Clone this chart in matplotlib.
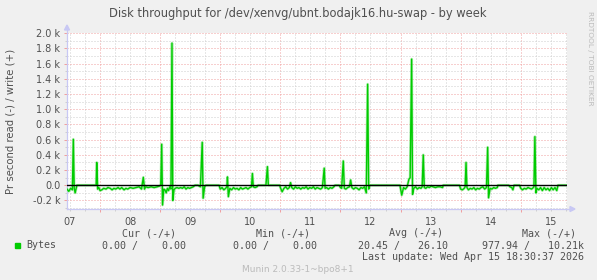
import matplotlib
matplotlib.use("Agg")
import matplotlib.pyplot as plt
from matplotlib.patches import Polygon, Rectangle
from matplotlib.lines import Line2D
import numpy as np

# ---------------- data (time in day-of-April, value in bytes/s) ----------------
times = [
    7.45, 7.48, 7.51, 7.54, 7.555, 7.57, 7.585, 7.60, 7.615, 7.75, 7.90,
    7.935, 7.945, 7.96, 7.98, 8.00, 8.03, 8.06, 8.10, 8.13, 8.17, 8.20, 8.23,
    8.26, 8.30, 8.33, 8.36, 8.40, 8.43, 8.46, 8.50, 8.55, 8.60, 8.65, 8.69,
    8.72, 8.74, 8.76, 8.80, 8.85, 8.90, 8.95, 8.99, 9.01, 9.026, 9.04, 9.06,
    9.08, 9.10, 9.12, 9.14, 9.16, 9.18, 9.197, 9.21, 9.23, 9.25, 9.28, 9.31,
    9.34, 9.37, 9.40, 9.43, 9.46, 9.49, 9.52, 9.55, 9.58, 9.63, 9.67, 9.70,
    9.715, 9.74, 9.76, 9.85, 9.98,
    10.00, 10.03, 10.06, 10.09, 10.11, 10.12, 10.135, 10.16, 10.19, 10.22,
    10.25, 10.28, 10.31, 10.34, 10.37, 10.40, 10.43, 10.46, 10.49, 10.52,
    10.535, 10.55, 10.58, 10.61, 10.63, 10.70, 10.76, 10.785, 10.80, 10.99,
    11.00, 11.03, 11.06, 11.09, 11.12, 11.15, 11.17, 11.19, 11.22, 11.25,
    11.28, 11.31, 11.34, 11.37, 11.40, 11.43, 11.46, 11.49, 11.52, 11.55,
    11.58, 11.61, 11.64, 11.67, 11.70, 11.73, 11.745, 11.77, 11.80, 11.83,
    11.86, 11.89, 11.91, 11.98,
    12.00, 12.02, 12.047, 12.065, 12.09, 12.12, 12.15, 12.17, 12.19, 12.22,
    12.25, 12.28, 12.31, 12.34, 12.37, 12.40, 12.43, 12.453, 12.47, 12.49,
    12.70, 12.99,
    13.02, 13.05, 13.08, 13.11, 13.14, 13.16, 13.185, 13.20, 13.22, 13.25,
    13.28, 13.31, 13.34, 13.36, 13.378, 13.395, 13.42, 13.45, 13.48, 13.51,
    13.54, 13.58, 13.62, 13.66, 13.70, 13.71, 13.98,
    14.00, 14.03, 14.06, 14.075, 14.09, 14.105, 14.13, 14.16, 14.19, 14.22,
    14.25, 14.28, 14.31, 14.34, 14.37, 14.40, 14.43, 14.45, 14.465, 14.49,
    14.52, 14.55, 14.58, 14.61, 14.62, 14.80, 14.82, 14.85, 14.87, 14.89,
    14.98,
    15.00, 15.03, 15.06, 15.09, 15.12, 15.15, 15.18, 15.21, 15.22, 15.236,
    15.253, 15.27, 15.30, 15.33, 15.36, 15.39, 15.42, 15.45, 15.48, 15.51,
    15.54, 15.57, 15.60, 15.62, 15.77,
]
values = [
    -50, -80, -40, -60, 605, -40, -100, -50, 0, 0, 0,
    0, 300, -50, -30, -70, -60, -40, -50, -30, -40, -60, -40,
    -50, -30, -50, -30, -60, -40, -50, -30, -40, -30, -20, -50,
    105, -50, -20, -30, -20, -30, -20, -10, 0, 540, -260, -50,
    -60, -100, -40, -70, -20, -50, 1870, -200, -60, -40, -30, -40,
    -30, -40, -20, -50, -30, -40, -30, -20, 0, 0, -20, 565,
    -170, -20, 0, 0, 0,
    -50, -30, -60, -40, -20, 110, -150, -40, -60, -30,
    -50, -40, -60, -30, -50, -40, -30, -50, -30, -20,
    155, -20, -30, -20, 0, 0, 0, 245, 0, 0,
    -30, -85, -40, -20, -50, -30, 35, -30, -50, -20,
    -40, -30, -50, -30, -40, -20, -50, -30, -40, -20,
    -50, -30, -40, -50, -30, 225, -40, -30, -50, -30,
    -40, -20, 0, 0,
    -30, -40, 320, -40, -50, -30, -20, 70, -30, -50,
    -30, -40, -60, -30, -40, -20, -100, 1330, -50, 0,
    0, 0,
    -130, -30, -50, -20, 80, 100, 1660, -120, -40, -20,
    -50, -30, -40, -20, 400, -30, -40, -20, -30, -10,
    -20, -30, -20, -20, -30, 0, 0,
    -50, -60, -40, -20, 300, -30, -60, -40, -50, -30,
    -60, -40, -50, -30, -20, -50, -30, 500, -165, -40,
    -50, -30, -40, -30, 0, 0, -20, -30, -60, 0,
    0,
    -40, -60, -40, -50, -30, -40, -50, -30, -20, 640,
    -100, -40, -60, -30, -70, -30, -60, -40, -70, -30,
    -60, -30, -70, 0, 0,
]

day_labels = ["07", "08", "09", "10", "11", "12", "13", "14", "15"]
day_starts = [7, 8, 9, 10, 11, 12, 13, 14, 15]
y_major = [-200, 0, 200, 400, 600, 800, 1000, 1200, 1400, 1600, 1800, 2000]

title = "Disk throughput for /dev/xenvg/ubnt.bodajk16.hu-swap - by week"
ylabel = "Pr second read (-) / write (+)"
legend_name = "Bytes"
col_heads = ["Cur (-/+)", "Min (-/+)", "Avg (-/+)", "Max (-/+)"]
col_vals = ["0.00 /    0.00", "0.00 /    0.00", "20.45 /   26.10", "977.94 /   10.21k"]
last_update = "Last update: Wed Apr 15 18:30:37 2026"
footer = "Munin 2.0.33-1~bpo8+1"
side_text = "RRDTOOL / TOBI OETIKER"

# ---------------- layout ----------------
W, H = 597, 280
fx = lambda x: x / W
fy = lambda y: 1 - y / H

GREEN = "#00CC00"
TXT = "#505050"
AXC = "#C8C8F4"
MAJ = "#F0A0A0"
MIN = "#CFCFCF"

fig = plt.figure(figsize=(W / 100, H / 100), dpi=100)
fig.patch.set_facecolor("#F0F0F0")
ax = fig.add_axes([fx(67), fy(209), 500 / W, 176 / H])
ax.set_facecolor("white")

# ticks & grid
ax.set_xticks(day_starts)
ax.set_xticks(np.arange(7.5, 15.8, 0.25), minor=True)
ax.set_xticklabels([])
ax.set_yticks(y_major)
ax.set_yticks(np.arange(-300, 2001, 100), minor=True)
ax.set_xlim(7.45, 15.77)
ax.set_ylim(-312, 2003)


def ylab(v):
    if v == 0:
        return "0.0"
    return f"{v/1000:.1f} k"


ax.set_yticklabels([ylab(v) for v in y_major])
ax.grid(which="minor", color=MIN, lw=0.72, ls=(0, (1, 2)), zorder=0)
ax.grid(which="major", color=MAJ, lw=0.72, ls=(0, (1, 2)), zorder=0.5)
ax.set_axisbelow(True)
ax.tick_params(which="major", length=2.2, width=0.72, color=MAJ, pad=2.5,
               labelsize=7, labelcolor=TXT)
ax.tick_params(which="minor", length=1.5, width=0.72, color=MIN)

for s in ["top", "right"]:
    ax.spines[s].set_visible(False)
for s in ["left", "bottom"]:
    ax.spines[s].set_color(AXC)
    ax.spines[s].set_linewidth(0.9)

# x day labels centred at noon
trans = ax.get_xaxis_transform()
for d, lab in zip(day_starts, day_labels):
    ax.text(d + 0.5, -0.045, lab, transform=trans, ha="center", va="top",
            fontsize=7, color=TXT, clip_on=False)

# data (soft halo mimics rrdtool anti-aliasing)
ax.plot(times, values, color="#7EE07E", lw=2.0, alpha=0.55, zorder=2.9)
ax.plot(times, values, color=GREEN, lw=1.0, zorder=3)
ax.axhline(0, color="black", lw=1.0, zorder=4)

# axis extensions + arrows
fig.add_artist(Line2D([fx(67), fx(67)], [fy(33), fy(29)], color=AXC, lw=0.9))
fig.add_artist(Polygon([[fx(64.5), fy(30)], [fx(69.5), fy(30)], [fx(67), fy(25)]],
                       closed=True, color=AXC, transform=fig.transFigure))
fig.add_artist(Line2D([fx(567), fx(571)], [fy(209), fy(209)], color=AXC, lw=0.9))
fig.add_artist(Polygon([[fx(570), fy(206.5)], [fx(570), fy(211.5)], [fx(575), fy(209)]],
                       closed=True, color=AXC, transform=fig.transFigure))

# titles
fig.text(fx(298), fy(13), title, ha="center", va="center", fontsize=8.3, color=TXT)
fig.text(fx(10.5), fy(121), ylabel, ha="center", va="center", rotation=90,
         fontsize=7.3, color=TXT)
fig.text(fx(590), fy(58), side_text, ha="center", va="center", rotation=270,
         fontsize=5.3, color="#BBBBBB")

# legend
mono = "DejaVu Sans Mono"
fig.add_artist(Rectangle((fx(14.5), fy(248)), 5.5 / W, 5.5 / H, color=GREEN,
                         transform=fig.transFigure))
fig.text(fx(26.5), fy(245.5), legend_name, ha="left", va="center", fontsize=7.2,
         family=mono, color=TXT)
head_right = [176, 310, 443, 576]
val_right = [186.5, 317, 447.5, 583.5]
for h, x in zip(col_heads, head_right):
    fig.text(fx(x), fy(233), h, ha="right", va="center", fontsize=7.2, family=mono, color=TXT)
for v, x in zip(col_vals, val_right):
    fig.text(fx(x), fy(245.5), v, ha="right", va="center", fontsize=7.2, family=mono, color=TXT)
fig.text(fx(583.5), fy(257.5), last_update, ha="right", va="center", fontsize=7.2,
         family=mono, color=TXT)
fig.text(fx(298), fy(269.5), footer, ha="center", va="center", fontsize=6.5,
         color="#BBBBBB")

fig.savefig("out.png", dpi=100, facecolor=fig.get_facecolor())
